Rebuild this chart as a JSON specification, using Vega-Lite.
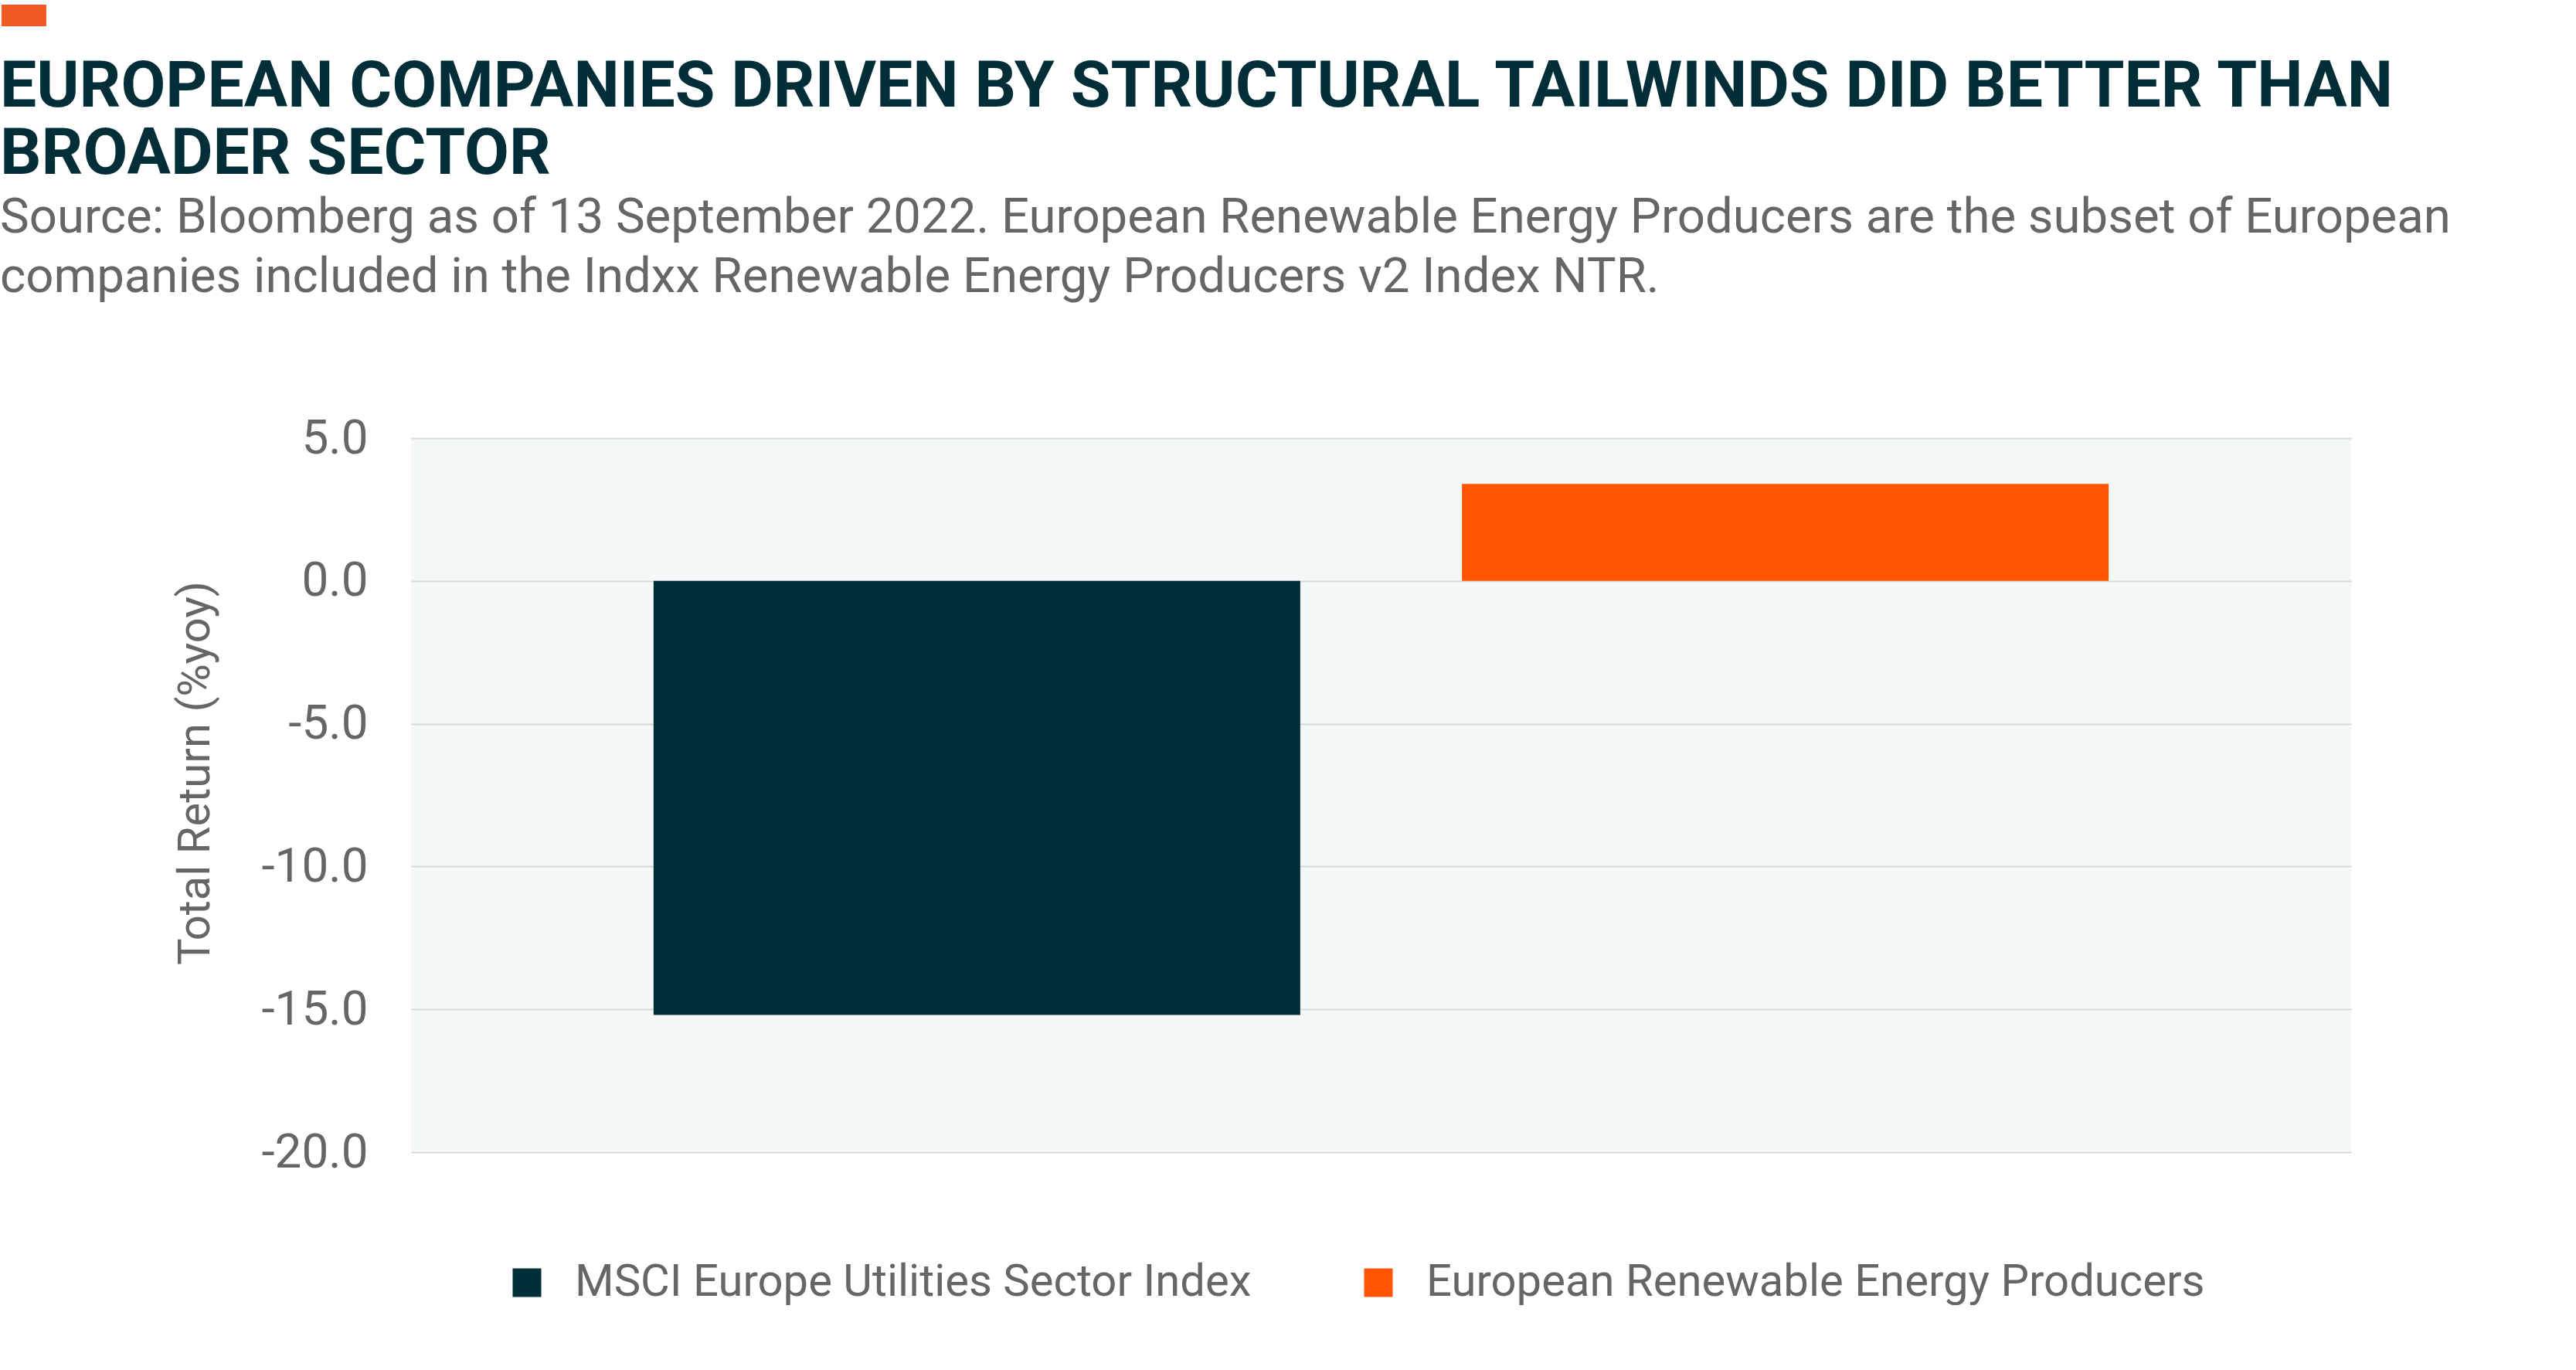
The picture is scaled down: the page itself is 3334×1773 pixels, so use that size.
{
  "$schema": "https://vega.github.io/schema/vega-lite/v6.json",
  "background": "#ffffff",
  "padding": {"left": -5, "top": -22, "right": 0, "bottom": 0},
  "autosize": {"type": "pad"},
  "title": {
    "text": "▬",
    "font": "DejaVu Sans",
    "fontSize": 76,
    "fontWeight": "normal",
    "color": "#f15a24",
    "anchor": "start",
    "frame": "bounds",
    "dx": -5,
    "offset": 15
  },
  "data": {
    "values": [
      {"Series": "MSCI Europe Utilities Sector Index", "Return": -15.2},
      {"Series": "European Renewable Energy Producers", "Return": 3.4}
    ]
  },
  "vconcat": [
    {
      "width": 2511,
      "height": 924,
      "title": {
        "text": ["EUROPEAN COMPANIES DRIVEN BY STRUCTURAL TAILWINDS DID BETTER THAN", "BROADER SECTOR"],
        "subtitle": ["Source: Bloomberg as of 13 September 2022. European Renewable Energy Producers are the subset of European", "companies included in the Indxx Renewable Energy Producers v2 Index NTR."],
        "anchor": "start",
        "frame": "group",
        "dx": -532,
        "font": "Roboto",
        "fontWeight": "bold",
        "fontSize": 84,
        "lineHeight": 87,
        "color": "#022e37",
        "subtitleFont": "Roboto",
        "subtitleFontSize": 63.5,
        "subtitleColor": "#666666",
        "subtitleLineHeight": 77,
        "subtitlePadding": 8,
        "offset": 145
      },
      "mark": {"type": "bar"},
      "encoding": {
        "x": {
          "field": "Series",
          "type": "nominal",
          "sort": ["MSCI Europe Utilities Sector Index", "European Renewable Energy Producers"],
          "scale": {"paddingInner": 0.2, "paddingOuter": 0.3},
          "axis": null
        },
        "y": {
          "field": "Return",
          "type": "quantitative",
          "scale": {"domain": [-20, 5], "nice": false},
          "axis": {
            "values": [-20, -15, -10, -5, 0, 5],
            "labelExpr": "(datum.value < 0 ? '-' : '') + format(abs(datum.value), '.1f')",
            "grid": true,
            "gridColor": "#d9d9d9",
            "gridWidth": 2,
            "domain": false,
            "ticks": false,
            "tickSize": 0,
            "labelPadding": 56,
            "labelFont": "Roboto",
            "labelFontSize": 62,
            "labelColor": "#666666",
            "title": "Total Return (%yoy)",
            "titleFont": "Roboto",
            "titleFontSize": 58,
            "titleFontWeight": "normal",
            "titleColor": "#666666",
            "titleAngle": -90,
            "titleX": -262,
            "titleY": 433,
            "titleAlign": "center",
            "titleBaseline": "alphabetic"
          }
        },
        "color": {
          "field": "Series",
          "type": "nominal",
          "scale": {
            "domain": ["MSCI Europe Utilities Sector Index", "European Renewable Energy Producers"],
            "range": ["#012f38", "#ff5500"]
          },
          "legend": {
            "title": null,
            "orient": "none",
            "direction": "horizontal",
            "legendX": 121,
            "legendY": 1064,
            "symbolType": "square",
            "symbolSize": 1369,
            "symbolStrokeWidth": 0,
            "labelFont": "Roboto",
            "labelFontSize": 58,
            "labelColor": "#666666",
            "labelOffset": 33,
            "columnPadding": 135,
            "labelLimit": 2000
          }
        }
      }
    }
  ],
  "config": {
    "view": {"stroke": null, "fill": "#f5f8f9"}
  }
}
